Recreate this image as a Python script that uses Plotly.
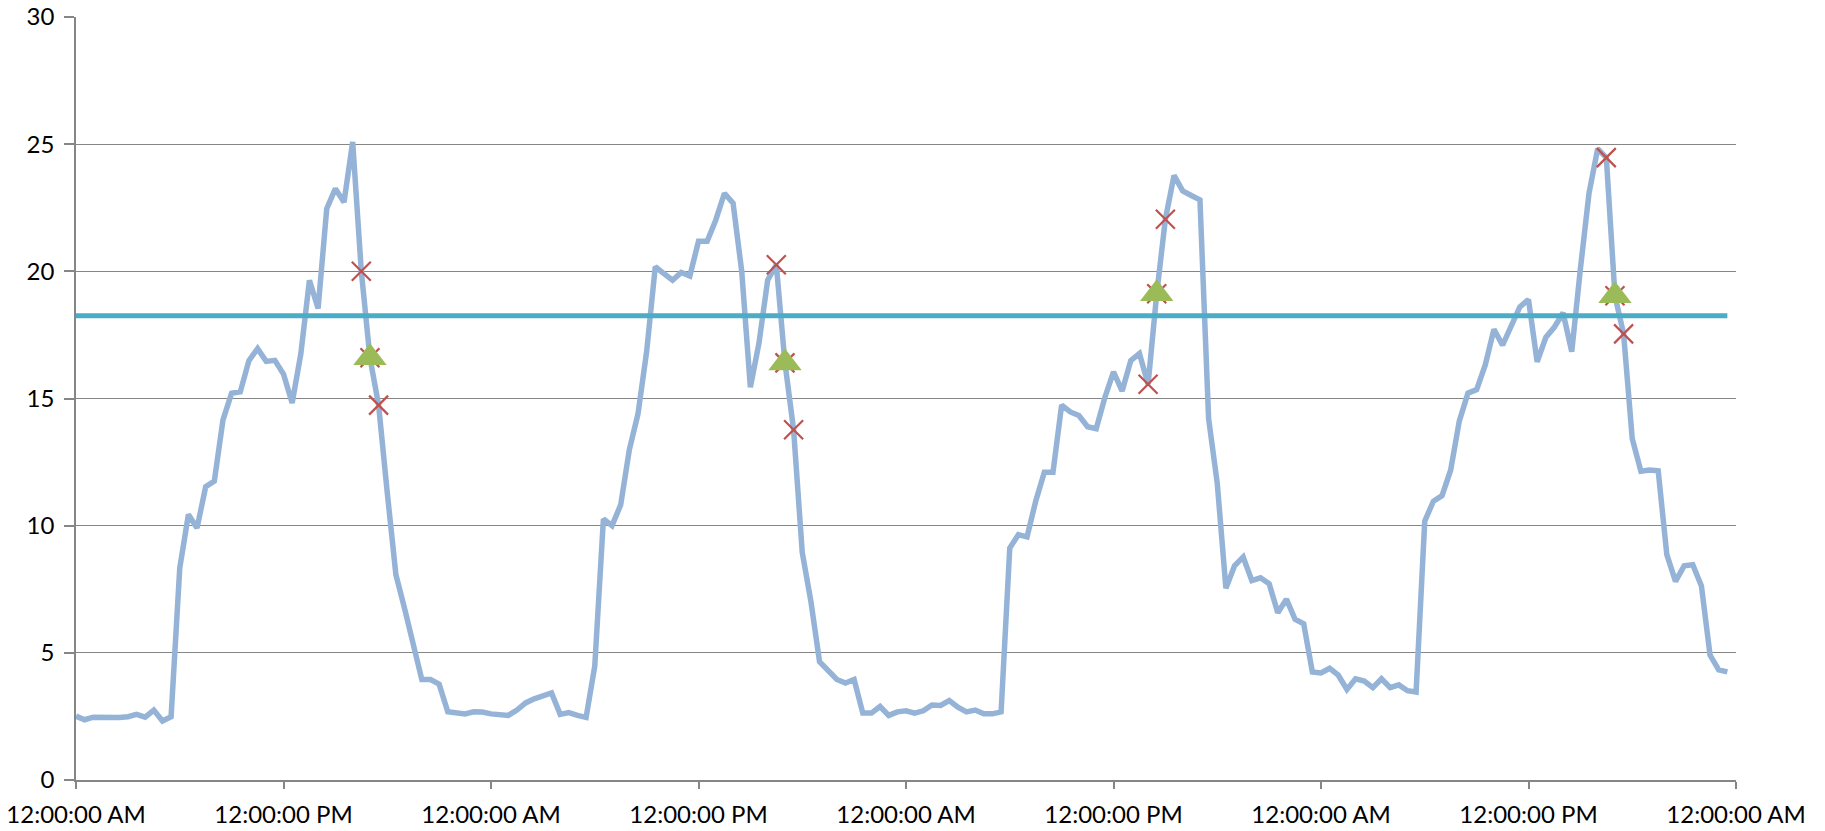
import pandas as pd
import plotly.graph_objects as go

start = "2013-01-07 00:00"
n_points = 192
times = pd.date_range(start, periods=n_points, freq="30min")

values = [
    2.51, 2.37, 2.47, 2.46, 2.46, 2.46, 2.49, 2.58, 2.47, 2.75, 2.32, 2.49,
    8.33, 10.44, 9.91, 11.53, 11.75, 14.16, 15.21, 15.26, 16.49, 16.96, 16.46, 16.50,
    15.96, 14.82, 16.75, 19.65, 18.54, 22.46, 23.25, 22.72, 25.09, 20.00, 16.60, 14.74,
    11.30, 8.07, 6.75, 5.26, 3.95, 3.95, 3.77, 2.68, 2.65, 2.60, 2.68, 2.67,
    2.60, 2.58, 2.54, 2.75, 3.03, 3.19, 3.28, 3.42, 2.58, 2.65, 2.54, 2.46,
    4.47, 10.26, 10.00, 10.82, 12.98, 14.39, 16.84, 20.18, 19.91, 19.65, 19.96, 19.82,
    21.18, 21.18, 22.02, 23.07, 22.68, 20.00, 15.44, 17.19, 19.65, 20.26, 16.40, 13.77,
    8.95, 7.02, 4.65, 4.26, 3.95, 3.81, 3.95, 2.63, 2.63, 2.89, 2.54, 2.68,
    2.72, 2.63, 2.72, 2.95, 2.93, 3.12, 2.86, 2.68, 2.75, 2.60, 2.60, 2.68,
    9.12, 9.65, 9.56, 10.96, 12.10, 12.10, 14.74, 14.47, 14.33, 13.89, 13.81, 15.04,
    16.05, 15.29, 16.49, 16.77, 15.56, 19.12, 22.05, 23.77, 23.16, 22.98, 22.81, 14.21,
    11.67, 7.54, 8.42, 8.77, 7.84, 7.95, 7.72, 6.58, 7.11, 6.32, 6.14, 4.25,
    4.21, 4.39, 4.12, 3.56, 3.98, 3.89, 3.63, 3.98, 3.63, 3.74, 3.51, 3.46,
    10.18, 10.96, 11.18, 12.19, 14.12, 15.21, 15.35, 16.32, 17.72, 17.10, 17.81, 18.60,
    18.89, 16.44, 17.40, 17.81, 18.37, 16.84, 20.09, 23.07, 24.82, 24.47, 19.04, 17.54,
    13.42, 12.14, 12.19, 12.16, 8.86, 7.81, 8.42, 8.46, 7.63, 4.91, 4.33, 4.25,
]

threshold = 18.25

cross_idx = [33, 34, 35, 81, 82, 83, 124, 125, 126, 177, 178, 179]
cross_values = [20.00, 16.60, 14.74, 20.26, 16.40, 13.77, 15.56, 19.12, 22.05, 24.47, 19.04, 17.54]

tri_idx = [34, 82, 125, 178]
tri_values = [16.60, 16.40, 19.12, 19.04]

fig = go.Figure()
fig.add_trace(go.Scatter(
    x=times, y=values, mode="lines",
    line=dict(color="#95B3D7", width=5.5), hoverinfo="skip"))
fig.add_trace(go.Scatter(
    x=[times[0], times[-1]], y=[threshold, threshold], mode="lines",
    line=dict(color="#4BACC6", width=5), hoverinfo="skip"))
fig.add_trace(go.Scatter(
    x=[times[i] for i in cross_idx], y=cross_values, mode="markers",
    marker=dict(symbol="x-thin", size=19, line=dict(color="#C0504D", width=2.2)),
    hoverinfo="skip"))
fig.add_trace(go.Scatter(
    x=[times[i] for i in tri_idx], y=tri_values, mode="markers",
    marker=dict(symbol="triangle-up", size=29, color="#9BBB59",
                line=dict(width=0)),
    hoverinfo="skip"))

t0 = pd.Timestamp(start)
fig.update_layout(
    width=1825, height=831,
    margin=dict(l=76, r=89, t=17, b=51, autoexpand=False),
    paper_bgcolor="white", plot_bgcolor="white",
    showlegend=False,
    font=dict(family="Lato, Liberation Sans, sans-serif", size=24, color="#000000"),
    xaxis=dict(
        type="date", automargin=False, ticklabeloverflow="allow",
        range=[t0, t0 + pd.Timedelta(days=4)],
        tick0=t0, dtick=43200000,
        tickformat="%I:%M:%S %p",
        showgrid=False, zeroline=False,
        showline=True, linecolor="#868686", linewidth=1.5,
        ticks="outside", ticklen=7, tickcolor="#868686", tickwidth=1.5,
        ticklabelstandoff=5,
    ),
    yaxis=dict(
        automargin=False, ticklabeloverflow="allow",
        range=[0, 30], dtick=5, tick0=0,
        showgrid=True, gridcolor="#868686", gridwidth=1,
        zeroline=False,
        showline=True, linecolor="#868686", linewidth=1.5,
        ticks="outside", ticklen=10, tickcolor="#868686", tickwidth=1.5,
        ticklabelstandoff=5,
    ),
)

fig.write_html(
    "out.html",
    config={"displayModeBar": False},
    post_script="document.body.style.margin='0';document.body.style.overflow='hidden';",
)
